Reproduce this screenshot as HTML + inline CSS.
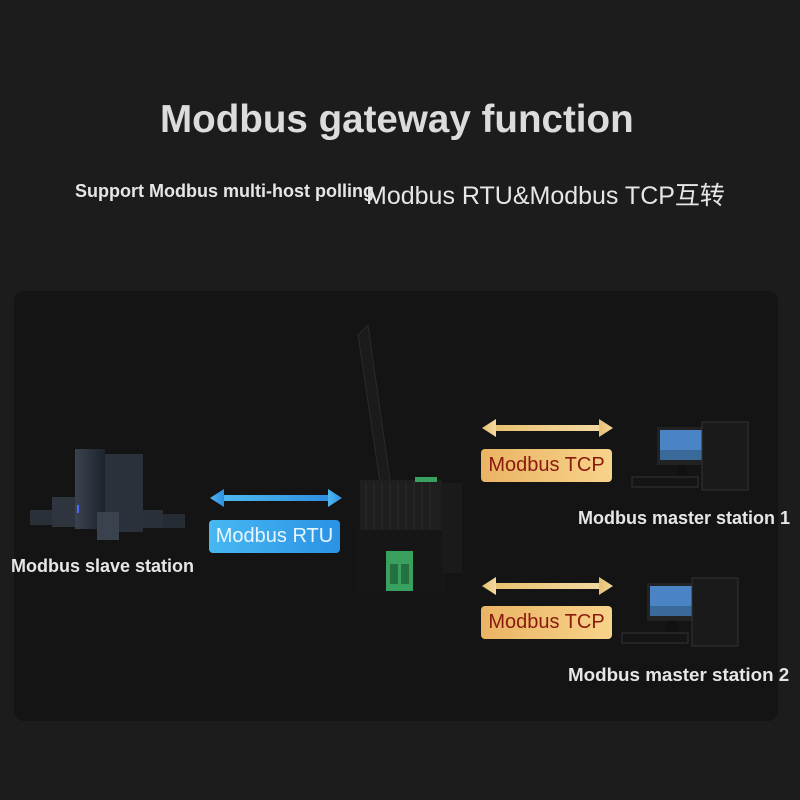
<!DOCTYPE html>
<html><head><meta charset="utf-8"><style>
body{margin:0;width:800px;height:800px;background:#1c1c1c;position:relative;overflow:hidden;font-family:"Liberation Sans","Noto Sans CJK SC",sans-serif;}
.a{position:absolute}
.t{color:#e6e6e6;font-weight:bold;white-space:nowrap}
.lbl{position:absolute;border-radius:4px;font-size:20px;white-space:nowrap;text-align:center}
</style></head><body>
<div class="a t" style="left:160px;top:98px;font-size:38.6px;color:#dcdcdc">Modbus gateway function</div>
<div class="a t" style="left:75px;top:181px;font-size:18px">Support Modbus multi-host polling</div>
<div class="a" style="left:366px;top:176px;font-size:25px;color:#e6e6e6;white-space:nowrap">Modbus RTU&amp;Modbus TCP互转</div>
<div class="a" style="left:14px;top:291px;width:764px;height:430px;background:#141414;border-radius:10px"></div>

<svg class="a" style="left:0;top:0" width="800" height="800">
<defs>
<linearGradient id="b" x1="0" x2="1"><stop offset="0" stop-color="#4fb8ee"/><stop offset="1" stop-color="#2d8fe0"/></linearGradient>
<linearGradient id="g" x1="0" x2="1"><stop offset="0" stop-color="#e8c070"/><stop offset="1" stop-color="#f3d9a0"/></linearGradient>
<linearGradient id="sv" x1="0" x2="1"><stop offset="0" stop-color="#3a4350"/><stop offset="1" stop-color="#1e232b"/></linearGradient>
</defs>
<g fill="url(#b)"><rect x="220" y="495" width="112" height="6"/><polygon points="210,498 224,489 224,507"/><polygon points="342,498 328,489 328,507"/></g>
<g fill="url(#g)"><rect x="492" y="425" width="110" height="6"/><polygon points="482,428 496,419 496,437"/><polygon points="613,428 599,419 599,437"/>
<rect x="492" y="583" width="110" height="6"/><polygon points="482,586 496,577 496,595"/><polygon points="613,586 599,577 599,595"/></g>
<rect x="30" y="510" width="25" height="15" fill="#2a3038"/>
<rect x="52" y="497" width="24" height="30" fill="#2e353f"/>
<rect x="75" y="449" width="30" height="80" fill="url(#sv)"/>
<rect x="105" y="454" width="38" height="78" fill="#2a313b"/>
<rect x="97" y="512" width="22" height="28" fill="#3a424d"/>
<rect x="143" y="510" width="20" height="18" fill="#2a3038"/>
<rect x="163" y="514" width="22" height="14" fill="#262c34"/>
<rect x="77" y="505" width="2" height="8" fill="#4a6cff"/>
<polygon points="358,335 368,325 390,480 380,482" fill="#1b1b1b" stroke="#2a2a2a"/>
<rect x="360" y="480" width="82" height="52" fill="#1e1e1e"/>
<g stroke="#2c2c2c" stroke-width="1"><line x1="366" y1="482" x2="366" y2="530"/><line x1="374" y1="482" x2="374" y2="530"/><line x1="382" y1="482" x2="382" y2="530"/><line x1="390" y1="482" x2="390" y2="530"/><line x1="398" y1="482" x2="398" y2="530"/><line x1="406" y1="482" x2="406" y2="530"/><line x1="414" y1="482" x2="414" y2="530"/><line x1="422" y1="482" x2="422" y2="530"/><line x1="430" y1="482" x2="430" y2="530"/></g>
<rect x="356" y="530" width="90" height="62" fill="#161616"/>
<rect x="442" y="483" width="20" height="90" fill="#1a1a1a"/>
<rect x="386" y="551" width="27" height="40" fill="#3aa060"/>
<rect x="390" y="564" width="8" height="20" fill="#237040"/><rect x="401" y="564" width="8" height="20" fill="#237040"/>
<rect x="415" y="477" width="22" height="5" fill="#3aa060"/>
<g transform="translate(632,422)">
<rect x="25" y="5" width="48" height="38" fill="#222"/><rect x="28" y="8" width="42" height="30" fill="#4a84c4"/><rect x="28" y="28" width="42" height="10" fill="#3a6a9a"/>
<rect x="45" y="43" width="10" height="10" fill="#111"/>
<rect x="70" y="0" width="46" height="68" fill="#1a1a1a" stroke="#333"/>
<rect x="0" y="55" width="66" height="10" fill="#151515" stroke="#333"/>
</g>
<g transform="translate(622,578)">
<rect x="25" y="5" width="48" height="38" fill="#222"/><rect x="28" y="8" width="42" height="30" fill="#4a84c4"/><rect x="28" y="28" width="42" height="10" fill="#3a6a9a"/>
<rect x="45" y="43" width="10" height="10" fill="#111"/>
<rect x="70" y="0" width="46" height="68" fill="#1a1a1a" stroke="#333"/>
<rect x="0" y="55" width="66" height="10" fill="#151515" stroke="#333"/>
</g>
</svg>

<div class="lbl" style="left:209px;top:520px;width:131px;height:33px;line-height:33px;background:linear-gradient(90deg,#47b8f2,#2b92e4);color:#eaf6ff">Modbus RTU</div>
<div class="lbl" style="left:481px;top:449px;width:131px;height:33px;line-height:33px;background:linear-gradient(90deg,#eab464,#f7d38a);color:#8a1a0e">Modbus TCP</div>
<div class="lbl" style="left:481px;top:606px;width:131px;height:33px;line-height:33px;background:linear-gradient(90deg,#eab464,#f7d38a);color:#8a1a0e">Modbus TCP</div>

<div class="a t" style="left:11px;top:556px;font-size:18px">Modbus slave station</div>
<div class="a t" style="left:578px;top:508px;font-size:18px">Modbus master station 1</div>
<div class="a t" style="left:568px;top:664px;font-size:18.8px">Modbus master station 2</div>
</body></html>
